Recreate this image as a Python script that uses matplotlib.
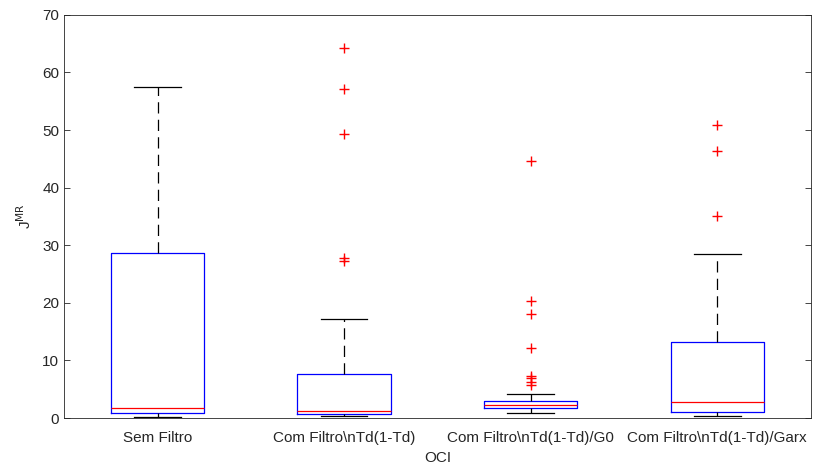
import matplotlib
matplotlib.use("Agg")
import matplotlib.pyplot as plt

# estatisticas de cada grupo (quartis, mediana, bigodes, outliers)
rotulos = ["Sem Filtro", "Com Filtro\\nTd(1-Td)", "Com Filtro\\nTd(1-Td)/G0",
           "Com Filtro\\nTd(1-Td)/Garx"]
q1 = [0.8, 0.75, 1.7, 1.1]
mediana = [1.8, 1.3, 2.3, 2.8]
q3 = [28.7, 7.6, 3.0, 13.2]
bigode_inf = [0.2, 0.3, 0.8, 0.35]
bigode_sup = [57.5, 17.2, 4.2, 28.5]
outliers = [
    [],
    [64.3, 57.2, 49.4, 27.8, 27.2],
    [44.6, 20.3, 18.0, 12.2, 7.3, 6.9, 6.2, 5.8],
    [50.8, 46.4, 35.1],
]

plt.rcParams['font.family'] = ['Liberation Sans', 'DejaVu Sans']
cinza = "#262626"

fig = plt.figure(figsize=(8.13, 4.66), dpi=100)
ax = fig.add_axes([0.079, 0.103, 0.918, 0.865])

stats = []
for i in range(len(rotulos)):
    stats.append(dict(label=rotulos[i], q1=q1[i], med=mediana[i], q3=q3[i],
                      whislo=bigode_inf[i], whishi=bigode_sup[i],
                      fliers=outliers[i]))

ax.bxp(stats, positions=[1, 2, 3, 4], widths=0.5,
       boxprops=dict(color="blue", linewidth=0.9),
       medianprops=dict(color="red", linewidth=0.9),
       whiskerprops=dict(color="black", linestyle=(0, (9, 5)), linewidth=0.9),
       capprops=dict(color="black", linewidth=0.9),
       capwidths=0.25,
       flierprops=dict(marker="+", markeredgecolor="red", markersize=7,
                       markeredgewidth=1.0, linestyle="none"))

ax.set_xlim(0.5, 4.5)
ax.set_ylim(0, 70)
ax.set_yticks(range(0, 71, 10))
ax.set_ylabel(r"J$^{\rm MR}$", fontsize=11, color=cinza, labelpad=6)
ax.set_xlabel("OCI", fontsize=11, color=cinza, labelpad=5)

ax.tick_params(axis="both", direction="in", top=True, right=True,
               labelsize=11, colors=cinza, length=4, width=0.6)
ax.tick_params(axis="x", length=0, pad=9)
for lado in ax.spines.values():
    lado.set_color(cinza)
    lado.set_linewidth(0.6)

fig.savefig("out.png", dpi=100)
